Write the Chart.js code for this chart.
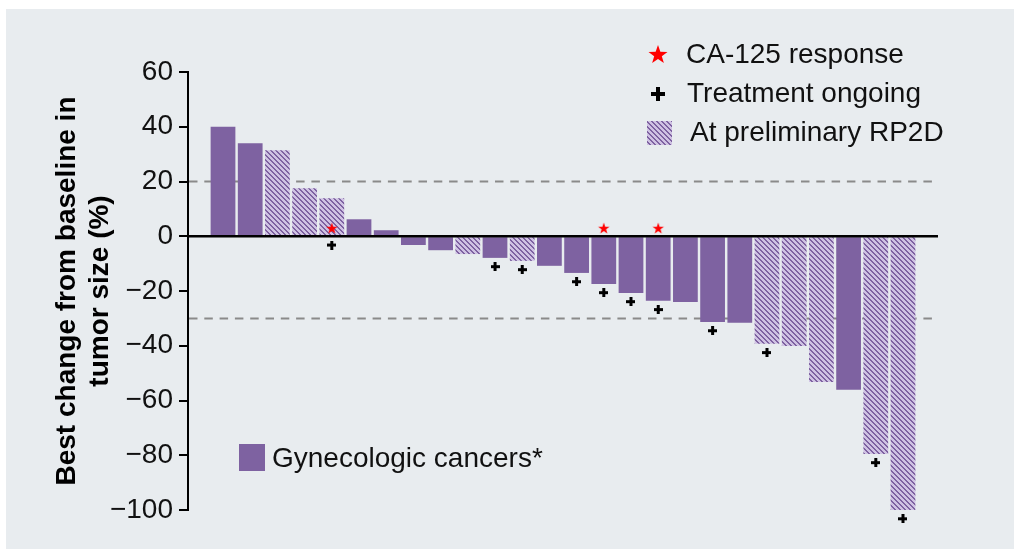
<!DOCTYPE html>
<html>
<head>
<meta charset="utf-8">
<script src="https://cdn.jsdelivr.net/npm/chart.js@4.4.0/dist/chart.umd.min.js"></script>
<style>
  html, body { margin: 0; padding: 0; background: #fff; }
  #panel { position: absolute; left: 6px; top: 9px; width: 1008px; height: 540px; background: #e8ecef; }
  #chart { position: absolute; left: 0; top: 0; }
</style>
</head>
<body>
<div id="panel"></div>
<canvas id="chart" width="1014" height="549"></canvas>
<script>
// one bar per patient, sorted by best change
const patients = [1, 2, 3, 4, 5, 6, 7, 8, 9, 10, 11, 12, 13, 14, 15, 16, 17, 18, 19, 20, 21, 22, 23, 24, 25, 26];
const bestChange = [40, 34, 31.4, 17.5, 13.9, 6.2, 2.2, -3.2, -5.1, -6.5, -7.9, -9.0, -10.8, -13.4,
    -17.4, -20.7, -23.6, -24.0, -31.3, -31.6, -39.3, -40.1, -53.2, -56.1, -79.5, -100];
const atRP2D  = [0, 0, 1, 1, 1, 0, 0, 0, 0, 1, 0, 1, 0, 0, 0, 0, 0, 0, 0, 0, 1, 1, 1, 0, 1, 1];
const ca125   = [0, 0, 0, 0, 1, 0, 0, 0, 0, 0, 0, 0, 0, 0, 1, 0, 1, 0, 0, 0, 0, 0, 0, 0, 0, 0];
const ongoing = [0, 0, 0, 0, 1, 0, 0, 0, 0, 0, 1, 1, 0, 1, 1, 1, 1, 0, 1, 0, 1, 0, 0, 0, 1, 1];
const yTicks = [60, 40, 20, 0, -20, -40, -60, -80, -100];
const refLines = [20, -30];

const FONT = "'Liberation Sans', Arial, sans-serif";
const PURPLE = '#7e62a1';
const LILAC = '#cfc2e3';
const STAR_Y = 3;      // stars sit just above zero
const MARK_GAP = 3.2;  // plus sits below the bar end

function makeHatch() {
    const n = 5;
    const c = document.createElement('canvas');
    c.width = c.height = n;
    const g = c.getContext('2d');
    g.fillStyle = LILAC;
    g.fillRect(0, 0, n, n);
    g.fillStyle = PURPLE;
    for (let y = 0; y < n; y++) {
        for (let x = 0; x < n; x++) {
            const d = ((x - y) % n + n) % n;
            if (d < 2) g.fillRect(x, y, 1, 1);
        }
    }
    return c;
}

function starPath(ctx, cx, cy, R) {
    const r = R * 0.4;
    ctx.beginPath();
    for (let i = 0; i < 10; i++) {
        const a = -Math.PI / 2 + i * Math.PI / 5;
        const rad = i % 2 ? r : R;
        ctx.lineTo(cx + rad * Math.cos(a), cy + rad * Math.sin(a));
    }
    ctx.closePath();
}

function makeStar(R) {
    const c = document.createElement('canvas');
    c.width = c.height = Math.ceil(R * 2 + 2);
    const g = c.getContext('2d');
    g.fillStyle = '#ff0000';
    starPath(g, c.width / 2, c.height / 2 + R * 0.1, R);
    g.fill();
    return c;
}

function makePlus(s, t) {
    const c = document.createElement('canvas');
    c.width = c.height = s;
    const g = c.getContext('2d');
    g.fillStyle = '#000';
    g.fillRect(0, (s - t) / 2, s, t);
    g.fillRect((s - t) / 2, 0, t, s);
    return c;
}

const ctx = document.getElementById('chart').getContext('2d');
const hatch = ctx.createPattern(makeHatch(), 'repeat');

const refLinePlugin = {
    id: 'refLines',
    beforeDatasetsDraw(chart) {
        const { ctx, chartArea, scales: { y } } = chart;
        ctx.save();
        ctx.strokeStyle = '#8a8a8a';
        ctx.lineWidth = 2;
        ctx.setLineDash([8.5, 6.8]);
        refLines.forEach(v => {
            const py = y.getPixelForValue(v);
            ctx.beginPath();
            ctx.moveTo(chartArea.left + 1, py);
            ctx.lineTo(chartArea.right, py);
            ctx.stroke();
        });
        ctx.restore();
    },
    afterDatasetsDraw(chart) {
        const { ctx, chartArea, scales: { y } } = chart;
        const py = y.getPixelForValue(0);
        ctx.save();
        ctx.strokeStyle = '#000';
        ctx.lineWidth = 2.5;
        ctx.beginPath();
        ctx.moveTo(chartArea.left, py);
        ctx.lineTo(chartArea.right, py);
        ctx.stroke();
        ctx.restore();
    }
};

// legends placed inside the plot, as in the figure
const legendPlugin = {
    id: 'insideLegend',
    afterDraw(chart) {
        const { ctx } = chart;
        ctx.save();
        ctx.font = `28px ${FONT}`;
        ctx.textBaseline = 'middle';

        ctx.fillStyle = '#ff0000';
        starPath(ctx, 658, 55, 10);
        ctx.fill();
        ctx.fillStyle = '#000';
        ctx.fillRect(651, 92, 14, 4);
        ctx.fillRect(656, 87, 4, 14);
        ctx.fillStyle = hatch;
        ctx.fillRect(647, 121, 25, 24);
        ctx.fillStyle = PURPLE;
        ctx.fillRect(239, 444, 26, 27);

        ctx.fillStyle = '#111';
        ctx.fillText('CA-125 response', 686, 55);
        ctx.fillText('Treatment ongoing', 687, 94);
        ctx.fillText('At preliminary RP2D', 690, 133);
        ctx.fillText('Gynecologic cancers*', 272, 459);
        ctx.restore();
    }
};

new Chart(ctx, {
    type: 'bar',
    data: {
        datasets: [
            {
                type: 'scatter',
                data: patients.filter((p, i) => ca125[i]).map(p => ({ x: p, y: STAR_Y })),
                pointStyle: makeStar(6),
                pointRadius: 12,
                clip: false,
                order: 0
            },
            {
                type: 'scatter',
                data: patients.filter((p, i) => ongoing[i])
                    .map(p => ({ x: p, y: Math.min(bestChange[p - 1], 0) - MARK_GAP })),
                pointStyle: makePlus(9, 3),
                pointRadius: 14,
                clip: false,
                order: 0
            },
            {
                type: 'bar',
                data: patients.map((p, i) => ({ x: p, y: bestChange[i] })),
                backgroundColor: atRP2D.map(h => h ? hatch : PURPLE),
                borderWidth: 0,
                barPercentage: 0.91,
                categoryPercentage: 1,
                grouped: false,
                order: 2
            }
        ]
    },
    options: {
        responsive: false,
        animation: false,
        layout: { padding: { left: 50, top: 72, right: 76, bottom: 39 } },
        plugins: {
            legend: { display: false },
            tooltip: { enabled: false }
        },
        scales: {
            x: {
                type: 'linear',
                display: false,
                offset: false,
                min: -0.287,
                max: 27.287
            },
            y: {
                min: -100,
                max: 60,
                afterBuildTicks: scale => { scale.ticks = yTicks.map(v => ({ value: v })); },
                afterFit: scale => { scale.width = 138; },
                ticks: {
                    font: { family: FONT, size: 28 },
                    color: '#111',
                    padding: 6,
                    callback: v => v < 0 ? '\u2212' + Math.abs(v) : String(v)
                },
                grid: {
                    drawOnChartArea: false,
                    drawTicks: true,
                    tickLength: 9,
                    color: '#000',
                    lineWidth: 2
                },
                border: { display: true, color: '#000', width: 2 },
                title: {
                    display: true,
                    text: ['Best change from baseline in', 'tumor size (%)'],
                    font: { family: FONT, size: 28, weight: 'bold' },
                    color: '#000',
                    padding: 0
                }
            }
        }
    },
    plugins: [refLinePlugin, legendPlugin]
});
</script>
</body>
</html>
